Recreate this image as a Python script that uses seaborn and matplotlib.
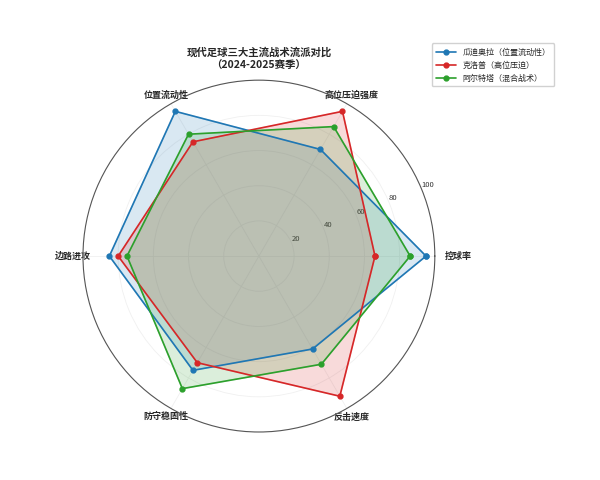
import numpy as np
import matplotlib
matplotlib.use("Agg")
import matplotlib.pyplot as plt
import seaborn as sns

# --- DATA ---
categories = ['控球率', '高位压迫强度', '位置流动性', '边路进攻', '防守稳固性', '反击速度']
guardiola = [95, 70, 95, 85, 75, 61]
klopp = [66, 95, 75, 80, 70, 92]
arteta = [86, 85, 80, 75, 87, 71]
series_names = ['瓜迪奥拉（位置流动性）', '克洛普（高位压迫）', '阿尔特塔（混合战术）']
r_ticks = [20, 40, 60, 80, 100]

sns.set_theme(style="white")
plt.rcParams['font.family'] = ['Noto Sans CJK SC', 'DejaVu Sans']
plt.rcParams['axes.unicode_minus'] = False

colors = ['#1f77b4', '#d62728', '#2ca02c']

angles = np.linspace(0, 2 * np.pi, len(categories), endpoint=False)
angles_closed = np.concatenate([angles, angles[:1]])

fig = plt.figure(figsize=(6, 4.8), dpi=100)
ax = fig.add_axes([0.138, 0.1, 0.587, 0.733], projection='polar')

for vals, name, col in zip([guardiola, klopp, arteta], series_names, colors):
    v = np.concatenate([vals, vals[:1]])
    ax.plot(angles_closed, v, color=col, linewidth=1.2, marker='o', markersize=3.5, label=name)
    ax.fill(angles_closed, v, color=col, alpha=0.17)

ax.set_ylim(0, 100)
ax.set_yticks(r_ticks)
ax.set_yticklabels([str(t) for t in r_ticks], fontsize=5.5, color='#333333')
ax.set_rlabel_position(22.5)
ax.set_xticks(angles)
ax.set_xticklabels(categories, fontsize=6.5, fontweight='bold')
ax.tick_params(axis='x', pad=-6)
ax.grid(color='#f0f0f0', linewidth=0.6)
ax.spines['polar'].set_color('#555555')
ax.spines['polar'].set_linewidth(0.8)

# right-hand label sits just outside the circle
ax.get_xticklabels()[0].set_horizontalalignment('left')

ax.set_title('现代足球三大主流战术流派对比\n（2024-2025赛季）', fontsize=7.5, fontweight='bold', pad=8, linespacing=1.4)

ax.legend(loc='upper left', bbox_to_anchor=(0.713, 0.918), bbox_transform=fig.transFigure,
          fontsize=5.8, frameon=True, framealpha=0.9, edgecolor='#cccccc',
          handlelength=2.5, borderpad=0.5, labelspacing=0.5)

plt.savefig('out.png', dpi=100)
plt.close()
